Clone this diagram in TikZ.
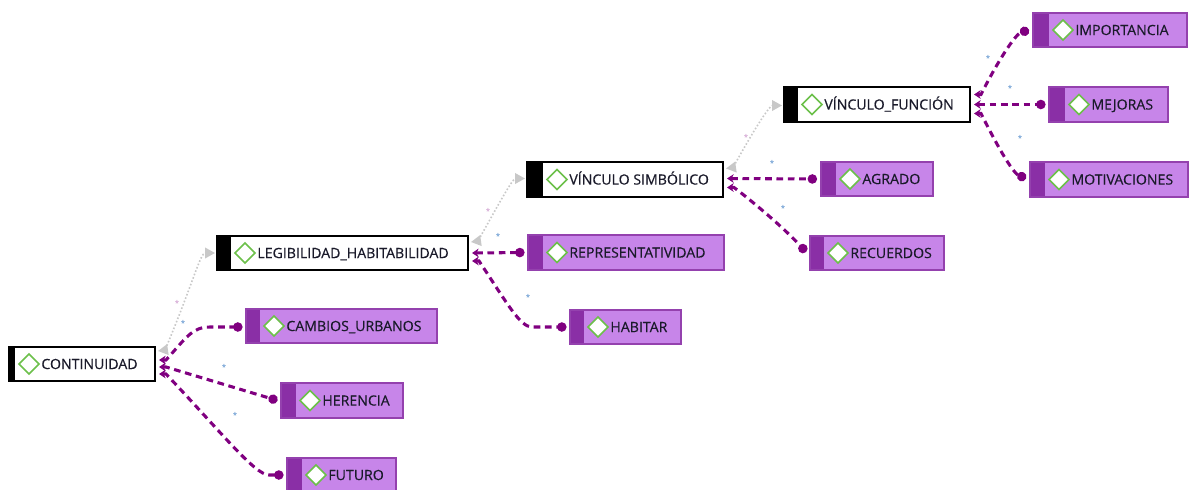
\documentclass[tikz,border=0pt]{standalone}
\usepackage{fontspec}
\setmainfont{Open Sans}
\newfontfamily\lblfont{Open Sans}[FakeBold=0.45]
\usetikzlibrary{arrows.meta,fit,calc,shapes.geometric}

\definecolor{lav}{HTML}{C785E9}
\definecolor{plum}{HTML}{8A2FA6}
\definecolor{pedge}{HTML}{9441AE}
\definecolor{pline}{HTML}{800080}
\definecolor{gline}{HTML}{C8C8C8}
\definecolor{leaf}{HTML}{6CC04A}
\definecolor{ink}{HTML}{1A1A2A}
\definecolor{starblue}{HTML}{4A86C8}
\definecolor{starpink}{HTML}{C890C8}

% concept box: name, kind (w/p), x1, y1, x2, y2, bar width, label
\newcommand\concept[8]{%
  \node[#2 box, fit={(#3,#4) (#5,#6)}] (#1) {};
  \fill[#2 bar] (#1.north west) rectangle ($(#1.south west)+(#7,0)$);
  \draw[#2 edge] (#1.north west) rectangle (#1.south east);
  \node[gem] (#1-g) at ($(#1.west)+(#7+14,0)$) {};
  \node[lbl] (#1-t) at ($(#1-g.east)+(1,0)$) {#8};
}

\begin{document}
\begin{tikzpicture}[x=0.75pt,y=-0.75pt,
  w box/.style={fill=white, inner sep=0pt, outer sep=0pt},
  w bar/.style={fill=black},
  w edge/.style={draw=black, line width=1pt},
  p box/.style={fill=lav, inner sep=0pt, outer sep=0pt},
  p bar/.style={fill=plum},
  p edge/.style={draw=pedge, line width=0.9pt},
  gem/.style={diamond, draw=leaf, fill=white, line width=1.2pt, aspect=1,
    minimum width=15.5pt, minimum height=15.5pt, inner sep=0pt},
  lbl/.style={anchor=west, inner sep=0pt, text height=7.6pt, text depth=0pt,
    font=\lblfont\fontsize{10.6}{12}\selectfont, text=ink},
  plink/.style={draw=pline, fill=none, line width=2.3pt, dash pattern=on 5pt off 3.5pt,
    arrows={Stealth[length=5pt,width=6.5pt,fill=pline]-Circle[length=7pt,fill=pline]}},
  glink/.style={draw=gline, line width=1.2pt, dash pattern=on 1.2pt off 1.5pt,
    arrows={Triangle[length=7.5pt,width=8pt,fill=gline]-Triangle[length=7.5pt,width=8pt,fill=gline]}},
  astk/.style={font=\fontsize{6}{6}\selectfont, text=starblue, inner sep=0pt},
  gastk/.style={astk, text=starpink}
]
\useasboundingbox (0,0) rectangle (1191,489);
\clip (0,0) rectangle (1191,489);

% concepts
\concept{cont}{w}{9}{347}{155}{381}{6}{CONTINUIDAD}
\concept{leg}{w}{217}{236}{468}{270}{14}{LEGIBILIDAD\_HABITABILIDAD}
\concept{camb}{p}{246}{309}{437}{343}{14}{CAMBIOS\_URBANOS}
\concept{her}{p}{281}{383}{403}{418}{15}{HERENCIA}
\concept{fut}{p}{287}{458}{396}{492}{15}{FUTURO}
\concept{vs}{w}{527}{162}{723}{197}{16}{VÍNCULO SIMBÓLICO}
\concept{rep}{p}{528}{235}{724}{270}{15}{REPRESENTATIVIDAD}
\concept{hab}{p}{570}{310}{681}{344}{14}{HABITAR}
\concept{agr}{p}{821}{162}{933}{196}{15}{AGRADO}
\concept{rec}{p}{810}{236}{944}{270}{14}{RECUERDOS}
\concept{vf}{w}{784}{87}{970}{122}{14}{VÍNCULO\_FUNCIÓN}
\concept{imp}{p}{1033}{13}{1187}{47}{16}{IMPORTANCIA}
\concept{mej}{p}{1049}{87}{1168}{122}{16}{MEJORAS}
\concept{mot}{p}{1030}{162}{1188}{197}{15}{MOTIVACIONES}

% grey links between concept levels
\draw[glink] ($(cont.east)+(3,-13)$) -- ++(7,-1)
  .. controls +(29,-69) and +(-15,0) .. ($(leg.west)+(-2,0)$);
\draw[glink] ($(leg.east)+(3,-11)$) -- ++(7,-1)
  .. controls +(25,-45) and +(-12,0) .. ($(vs.west)+(-2,-1)$);
\draw[glink] ($(vs.east)+(3,-11)$) -- ++(7,-1)
  .. controls +(25,-45) and +(-12,0) .. ($(vf.west)+(-2,1)$);

% purple links to sub-codes
\draw[plink] ($(cont.east)+(4,-4)$) -- ++(7,0)
  .. controls +(20,-22) and +(-18,0) .. ($(camb.west)+(-36,1)$) -- ($(camb.west)+(-3.5,1)$);
\draw[plink] ($(cont.east)+(4,3)$) -- ++(7,0) -- ($(her.west)+(-3.5,0)$);
\draw[plink] ($(cont.east)+(4,10)$) -- ++(7,0)
  .. controls +(55,58) and +(-14,0) .. ($(fut.west)+(-18,0)$) -- ($(fut.west)+(-3.5,0)$);

\draw[plink] ($(leg.east)+(4,0)$) -- ($(rep.west)+(-3.5,0)$);
\draw[plink] ($(leg.east)+(4,8)$) -- ++(7,0)
  .. controls +(28,42) and +(-12,0) .. ($(hab.west)+(-38,0)$) -- ($(hab.west)+(-3.5,0)$);

\draw[plink] ($(vs.east)+(4,-1)$) -- ($(agr.west)+(-4,0)$);
\draw[plink] ($(vs.east)+(4,8)$) -- ++(7,0)
  .. controls +(20,15) and +(-20,-22) .. ($(rec.west)+(-4,-1)$);

\draw[plink] ($(vf.east)+(4,-10)$) -- ++(7,0)
  .. controls +(15,-30) and +(-14,4) .. ($(imp.west)+(-4,0)$);
\draw[plink] ($(vf.east)+(4,0)$) -- ($(mej.west)+(-3.5,0)$);
\draw[plink] ($(vf.east)+(4,9)$) -- ++(7,0)
  .. controls +(14,28) and +(-14,-6) .. ($(mot.west)+(-4,-1)$);

% link labels
\node[gastk] (s1) at (177,303) {*};
\node[astk] (s2) at (183,323) {*};
\node[astk] (s3) at (224,367) {*};
\node[astk] (s4) at (235,415) {*};
\node[gastk] (s5) at (488,211) {*};
\node[astk] (s6) at (498,236) {*};
\node[astk] (s7) at (528,297) {*};
\node[gastk] (s8) at (746,137) {*};
\node[astk] (s9) at (772,163) {*};
\node[astk] (s10) at (783,208) {*};
\node[astk] (s11) at (988,58) {*};
\node[astk] (s12) at (1010,88) {*};
\node[astk] (s13) at (1020,138) {*};
\end{tikzpicture}
\end{document}
